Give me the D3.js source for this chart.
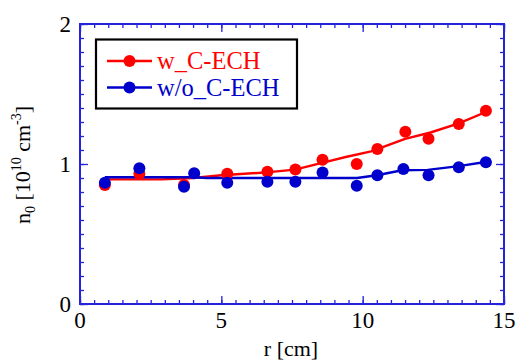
<!DOCTYPE html>
<html>
<head>
<meta charset="utf-8">
<script src="https://cdn.jsdelivr.net/npm/d3@7"></script>
<style>
  html, body { margin: 0; padding: 0; background: #fff; }
  svg { display: block; }
  svg text { font-family: "Liberation Serif", "Tinos", "Times New Roman", "DejaVu Serif", serif; }
</style>
</head>
<body>
<svg id="chart" width="517" height="362"></svg>
<script>
// ---- data ----
const seriesNames = ["w_C-ECH", "w/o_C-ECH"];
const withR = [0.88, 2.10, 3.68, 5.21, 6.63, 7.62, 8.58, 9.79, 10.52, 11.51, 12.33, 13.40, 14.36];
const withN = [0.85, 0.93, 0.85, 0.93, 0.945, 0.96, 1.03, 1.00, 1.107, 1.23, 1.18, 1.286, 1.38];
const withoutR = [0.88, 2.10, 3.68, 4.04, 5.21, 6.63, 7.62, 8.58, 9.79, 10.52, 11.44, 12.33, 13.40, 14.36];
const withoutN = [0.866, 0.97, 0.838, 0.934, 0.866, 0.874, 0.874, 0.94, 0.845, 0.92, 0.964, 0.919, 0.976, 1.012];
const withFitR = [0.88, 2.9, 4.0, 5.0, 6.6, 7.6, 8.6, 9.4, 10.3, 11.5, 12.4, 13.4, 14.4];
const withFitN = [0.89, 0.89, 0.90, 0.92, 0.94, 0.96, 1.01, 1.05, 1.09, 1.18, 1.225, 1.29, 1.375];
const withoutFitR = [0.88, 4.0, 4.5, 9.8, 10.5, 11.4, 12.3, 13.4, 14.4];
const withoutFitN = [0.905, 0.905, 0.90, 0.90, 0.92, 0.955, 0.958, 0.985, 1.016];
const xTicks = [0, 5, 10, 15];
const yTicks = [0, 1, 2];

// ---- layout ----
const L = 80, R = 504, T = 24, B = 304;
const axisColor = "#2424dc";
const colors = ["#ff0000", "#0000cc"];

const svg = d3.select("#chart");
const x = d3.scaleLinear().domain([0, 15]).range([L, R]);
const y = d3.scaleLinear().domain([0, 2]).range([B, T]);

// fit lines
const line = d3.line().x(d => x(d[0])).y(d => y(d[1]));
const fits = [d3.zip(withFitR, withFitN), d3.zip(withoutFitR, withoutFitN)];
const pts = [d3.zip(withR, withN), d3.zip(withoutR, withoutN)];

fits.forEach((f, i) => {
  svg.append("path").attr("d", line(f)).attr("fill", "none")
    .attr("stroke", colors[i]).attr("stroke-width", 2.4).attr("stroke-linejoin", "round");
});
pts.forEach((p, i) => {
  svg.append("g").selectAll("circle").data(p).join("circle")
    .attr("cx", d => x(d[0])).attr("cy", d => y(d[1])).attr("r", 6)
    .attr("fill", colors[i]);
});

// axes with inward ticks on all 4 sides
function styleAxis(g) {
  g.select(".domain").remove();
  g.selectAll("line").attr("stroke", axisColor).attr("stroke-width", 1.3);
  g.selectAll("text").remove();
}
const xMinor = d3.range(0, 15.01, 0.5);
const yMinor = d3.range(0, 2.001, 0.1);
svg.append("g").attr("transform", `translate(0,${B})`)
  .call(d3.axisBottom(x).tickValues(xMinor).tickSize(-4)).call(styleAxis);
svg.append("g").attr("transform", `translate(0,${B})`)
  .call(d3.axisBottom(x).tickValues(xTicks).tickSize(-8)).call(styleAxis);
svg.append("g").attr("transform", `translate(0,${T})`)
  .call(d3.axisTop(x).tickValues(xMinor).tickSize(-4)).call(styleAxis);
svg.append("g").attr("transform", `translate(0,${T})`)
  .call(d3.axisTop(x).tickValues(xTicks).tickSize(-8)).call(styleAxis);
svg.append("g").attr("transform", `translate(${L},0)`)
  .call(d3.axisLeft(y).tickValues(yMinor).tickSize(-4)).call(styleAxis);
svg.append("g").attr("transform", `translate(${L},0)`)
  .call(d3.axisLeft(y).tickValues(yTicks).tickSize(-8)).call(styleAxis);
svg.append("g").attr("transform", `translate(${R},0)`)
  .call(d3.axisRight(y).tickValues(yMinor).tickSize(-4)).call(styleAxis);
svg.append("g").attr("transform", `translate(${R},0)`)
  .call(d3.axisRight(y).tickValues(yTicks).tickSize(-8)).call(styleAxis);

svg.append("rect").attr("x", L).attr("y", T).attr("width", R - L).attr("height", B - T)
  .attr("fill", "none").attr("stroke", axisColor).attr("stroke-width", 2);

// tick labels
svg.append("g").selectAll("text").data(xTicks).join("text")
  .attr("x", d => x(d)).attr("y", 328).attr("text-anchor", "middle")
  .attr("font-size", 23).attr("fill", "#000").text(d => d);
svg.append("g").selectAll("text").data(yTicks).join("text")
  .attr("x", 71).attr("y", d => y(d) + 8).attr("text-anchor", "end")
  .attr("font-size", 23).attr("fill", "#000").text(d => d);

// axis titles
svg.append("text").attr("x", 291).attr("y", 356).attr("text-anchor", "middle")
  .attr("font-size", 22).attr("fill", "#000").text("r [cm]");
const yt = svg.append("text").attr("transform", `translate(30,165) rotate(-90)`)
  .attr("text-anchor", "middle").attr("font-size", 22).attr("fill", "#000");
yt.append("tspan").text("n");
yt.append("tspan").attr("font-size", 14).attr("dy", 5).text("0");
yt.append("tspan").attr("dy", -5).text(" [10");
yt.append("tspan").attr("font-size", 14).attr("dy", -9).text("10");
yt.append("tspan").attr("dy", 9).text(" cm");
yt.append("tspan").attr("font-size", 14).attr("dy", -9).text("-3");
yt.append("tspan").attr("dy", 9).text("]");

// legend
const lg = svg.append("g");
lg.append("rect").attr("x", 96).attr("y", 39.5).attr("width", 201).attr("height", 69)
  .attr("fill", "#fff").attr("stroke", "#000").attr("stroke-width", 2.2);
seriesNames.forEach((name, i) => {
  const ly = 61 + i * 26.5;
  lg.append("line").attr("x1", 107).attr("x2", 152).attr("y1", ly).attr("y2", ly)
    .attr("stroke", colors[i]).attr("stroke-width", 2.4);
  lg.append("circle").attr("cx", 129.5).attr("cy", ly).attr("r", 6).attr("fill", colors[i]);
  lg.append("text").attr("x", 157).attr("y", ly + 8).attr("font-size", 24.5)
    .attr("fill", colors[i]).text(name);
});
</script>
</body>
</html>
